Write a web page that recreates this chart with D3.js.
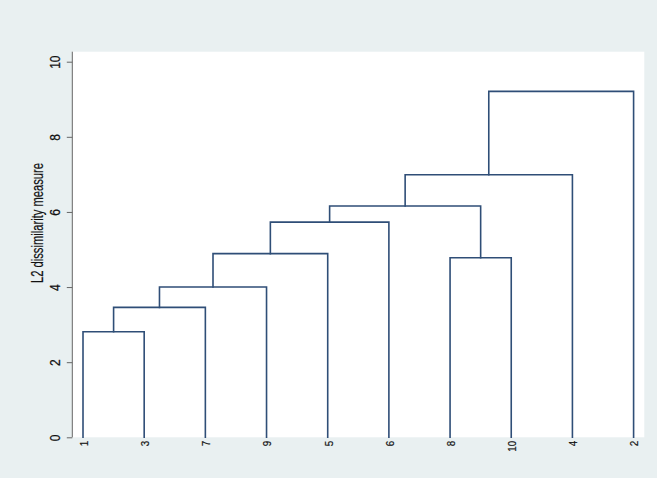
<!DOCTYPE html>
<html>
<head>
<meta charset="utf-8">
<script src="https://cdn.jsdelivr.net/npm/d3@7"></script>
<style>
  html, body { margin: 0; padding: 0; background: #e9f0f1; }
  svg { display: block; }
  text { font-family: "Liberation Sans", Arial, Helvetica, sans-serif; fill: #111; }
</style>
</head>
<body>
<svg id="chart" width="657" height="478"></svg>
<script>
// ---- data ----
const leafLabels = ["1", "3", "7", "9", "5", "6", "8", "10", "4", "2"];
const mergeNames = ["A", "B", "C", "D", "E", "F", "G", "H", "I"];
const mergeLeft = ["1", "A", "B", "C", "D", "8", "E", "G", "H"];
const mergeRight = ["3", "7", "9", "5", "6", "10", "F", "4", "2"];
const mergeHeights = [2.81, 3.46, 4.0, 4.89, 5.73, 4.78, 6.16, 6.99, 9.21];
const yTicks = [0, 2, 4, 6, 8, 10];
const yTitle = "L2 dissimilarity measure";

// ---- layout ----
const W = 657, H = 478;
const plot = { left: 72.3, right: 644.3, top: 51.7, bottom: 437.3 };

const svg = d3.select("#chart");
svg.append("rect").attr("width", W).attr("height", H).attr("fill", "#e9f0f1");
svg.append("rect")
  .attr("x", plot.left).attr("y", plot.top)
  .attr("width", plot.right - plot.left).attr("height", plot.bottom - plot.top)
  .attr("fill", "#ffffff");

const x = d3.scalePoint().domain(leafLabels).range([plot.left, plot.right]).padding(0.175);
const y = d3.scaleLinear().domain([0, 10]).range([437.3, 61.7]);

// node positions
const pos = {};
leafLabels.forEach(l => { pos[l] = { x: x(l), h: 0 }; });
mergeNames.forEach((m, i) => {
  const a = pos[mergeLeft[i]], b = pos[mergeRight[i]];
  pos[m] = { x: (a.x + b.x) / 2, h: mergeHeights[i] };
});

// dendrogram links
const lineColor = "#2f4e77";
const g = svg.append("g").attr("fill", "none").attr("stroke", lineColor)
  .attr("stroke-width", 1.6).attr("stroke-linejoin", "miter").attr("stroke-linecap", "square");
mergeNames.forEach((m, i) => {
  const a = pos[mergeLeft[i]], b = pos[mergeRight[i]], h = mergeHeights[i];
  const path = d3.path();
  path.moveTo(a.x, y(a.h));
  path.lineTo(a.x, y(h));
  path.lineTo(b.x, y(h));
  path.lineTo(b.x, y(b.h));
  g.append("path").attr("d", path.toString());
});

// y axis
const yAxis = d3.axisLeft(y).tickValues(yTicks).tickSize(5.5).tickFormat(d3.format("d"));
const ya = svg.append("g").attr("transform", `translate(${plot.left},0)`).call(yAxis);
ya.select(".domain").attr("d", `M-0.0,${plot.top}V${plot.bottom}`).attr("stroke", "#666").attr("stroke-width", 1);
ya.selectAll(".tick line").attr("stroke", "#666").attr("stroke-width", 1);
ya.selectAll(".tick text")
  .attr("x", null).attr("dy", null)
  .attr("text-anchor", "middle")
  .attr("font-size", 15)
  .attr("font-family", "Liberation Sans, Arial, sans-serif")
  .attr("fill", "#111").attr("stroke", "#111").attr("stroke-width", 0.25)
  .attr("transform", "translate(-12.3,0) rotate(-90) scale(0.8,1)");

// x axis labels (no axis line)
const xAxis = d3.axisBottom(x).tickSize(0);
const xa = svg.append("g").attr("transform", `translate(0,${plot.bottom})`).call(xAxis);
xa.select(".domain").remove();
xa.selectAll(".tick text")
  .attr("y", null).attr("dy", null)
  .attr("text-anchor", "end")
  .attr("font-size", 11.5)
  .attr("font-family", "Liberation Sans, Arial, sans-serif")
  .attr("fill", "#111").attr("stroke", "#111").attr("stroke-width", 0.2)
  .attr("transform", "translate(4.3,3.5) rotate(-90) scale(0.85,1)");

// y title
svg.append("text")
  .attr("transform", "translate(43,223) rotate(-90) scale(0.7,1)")
  .attr("text-anchor", "middle")
  .attr("font-size", 16)
  .attr("stroke", "#111").attr("stroke-width", 0.2)
  .text(yTitle);
</script>
</body>
</html>
